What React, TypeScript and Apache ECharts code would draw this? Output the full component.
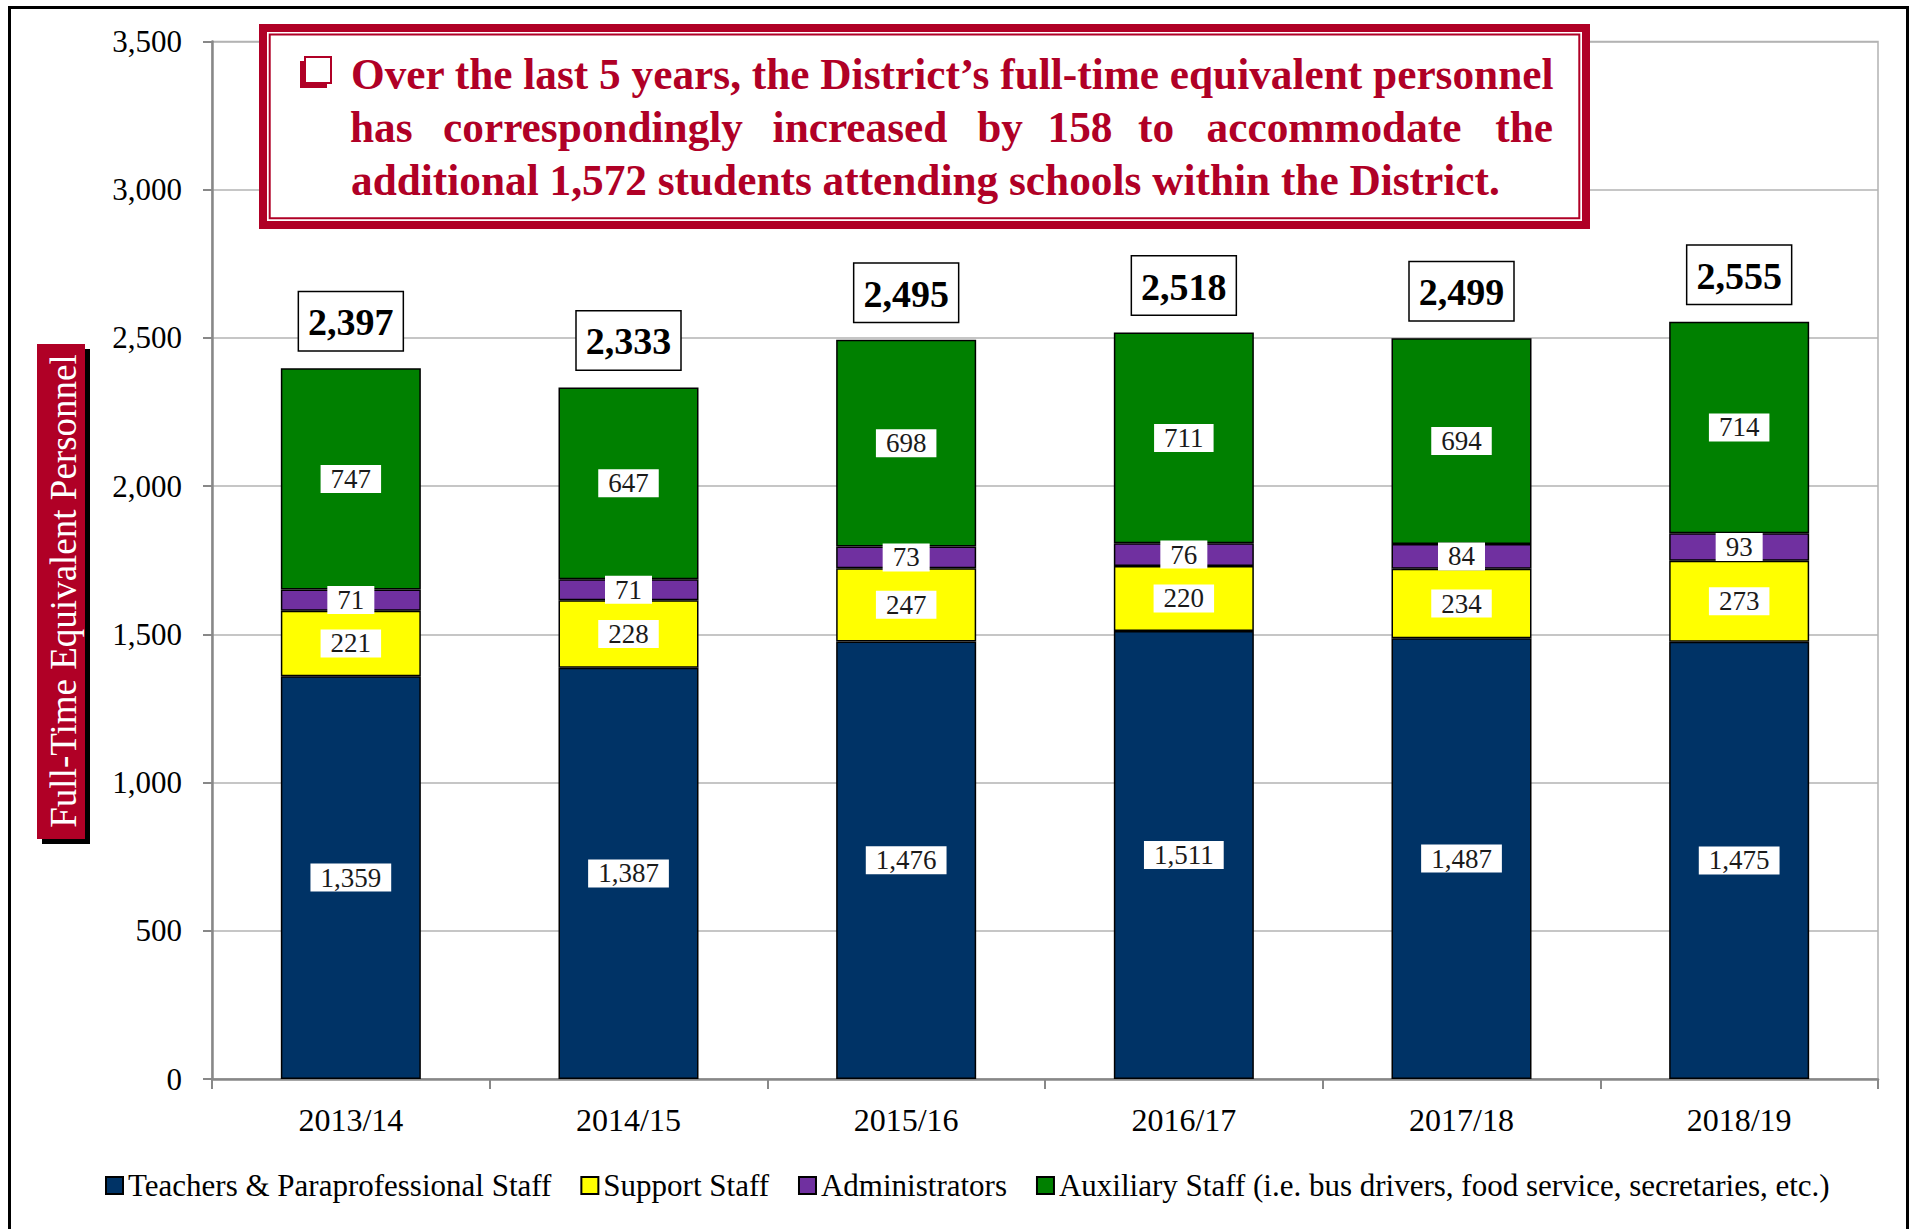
import React, { useEffect, useRef } from "react";
import * as echarts from "echarts";

const categories = ["2013/14", "2014/15", "2015/16", "2016/17", "2017/18", "2018/19"];
const teachers = [1359, 1387, 1476, 1511, 1487, 1475];
const support = [221, 228, 247, 220, 234, 273];
const admins = [71, 71, 73, 76, 84, 93];
const auxiliary = [747, 647, 698, 711, 694, 714];
const totals = [2397, 2333, 2495, 2518, 2499, 2555];
const seriesNames = [
  "Teachers & Paraprofessional Staff",
  "Support Staff",
  "Administrators",
  "Auxiliary Staff (i.e. bus drivers, food service, secretaries, etc.)",
];
const seriesColors = ["#003366", "#FFFF00", "#7030A0", "#008000"];
const calloutLine1 = "Over the last 5 years, the District\u2019s full-time equivalent personnel";
const calloutLine2 = ["has", "correspondingly", "increased", "by", "158", "to", "accommodate", "the"];
const calloutLine3 = "additional 1,572 students attending schools within the District.";
const yAxisTitle = "Full-Time Equivalent Personnel";

const FONT = '"Liberation Serif", "Times New Roman", serif';
const RED = "#B00026";
const fmt = (v: number) => v.toLocaleString("en-US");

// word anchors for the justified second line
const line2X = [350, 593, 860, 1000, 1080, 1156, 1334, 1553];

export default function App() {
  const ref = useRef<HTMLDivElement>(null);
  useEffect(() => {
    if (!ref.current) return;
    const chart = echarts.init(ref.current, undefined, { renderer: "svg" });
    const dataSets = [teachers, support, admins, auxiliary];

    const segLabel = {
      show: true,
      position: "inside",
      backgroundColor: "#fff",
      padding: [1, 10, 0, 10],
      fontSize: 27,
      lineHeight: 27,
      fontFamily: FONT,
      color: "#1a1a1a",
      formatter: (p: any) => fmt(p.value),
    };

    const series: any[] = dataSets.map((d, i) => ({
      name: seriesNames[i],
      type: "bar",
      stack: "total",
      barWidth: 140,
      data: d,
      itemStyle: { color: seriesColors[i], borderColor: "#000", borderWidth: 1.5 },
      label: segLabel,
    }));

    series.push({
      name: "Total",
      type: "bar",
      stack: "total",
      barWidth: 140,
      data: totals.map(() => 0),
      itemStyle: { color: "transparent", borderWidth: 0 },
      label: {
        show: true,
        position: "top",
        distance: 18,
        formatter: (p: any) => fmt(totals[p.dataIndex]),
        fontSize: 38,
        lineHeight: 38,
        fontWeight: "bold",
        fontFamily: FONT,
        color: "#000",
        backgroundColor: "#fff",
        borderColor: "#000",
        borderWidth: 1.5,
        padding: [11, 9, 9, 9],
      },
    });

    const textStyleBase = {
      fill: RED,
      fontSize: 43.3,
      fontWeight: "bold",
      fontFamily: FONT,
      textVerticalAlign: "middle",
    };

    const graphic: any[] = [
      {
        type: "rect",
        shape: { x: 9.5, y: 7.5, width: 1898, height: 1260 },
        style: { fill: "none", stroke: "#000", lineWidth: 3 },
        z: 100,
      },
      // y-axis title box
      {
        type: "rect",
        shape: { x: 42, y: 349, width: 48, height: 495 },
        style: { fill: "#000" },
        z: 100,
      },
      {
        type: "rect",
        shape: { x: 37, y: 344, width: 48, height: 495 },
        style: { fill: RED },
        z: 101,
      },
      {
        type: "text",
        x: 63,
        y: 591,
        rotation: Math.PI / 2,
        z: 102,
        style: {
          text: yAxisTitle,
          fill: "#fff",
          fontSize: 37,
          fontFamily: FONT,
          textAlign: "center",
          textVerticalAlign: "middle",
        },
      },
      // callout
      {
        type: "rect",
        shape: { x: 263, y: 28, width: 1323, height: 197 },
        style: { fill: "#fff", stroke: RED, lineWidth: 8 },
        z: 100,
      },
      {
        type: "rect",
        shape: { x: 269.7, y: 34.5, width: 1309.6, height: 183.8 },
        style: { fill: "none", stroke: RED, lineWidth: 2 },
        z: 101,
      },
      {
        type: "rect",
        shape: { x: 300, y: 61, width: 27, height: 27 },
        style: { fill: RED },
        z: 101,
      },
      {
        type: "rect",
        shape: { x: 305, y: 57, width: 26, height: 26 },
        style: { fill: "#fff", stroke: RED, lineWidth: 2 },
        z: 102,
      },
      {
        type: "text",
        x: 351,
        y: 74,
        z: 102,
        style: { ...textStyleBase, text: calloutLine1, textAlign: "left" },
      },
      ...calloutLine2.map((w, i) => ({
        type: "text",
        x: line2X[i],
        y: 127,
        z: 102,
        style: {
          ...textStyleBase,
          text: w,
          textAlign: i === 0 ? "left" : i === calloutLine2.length - 1 ? "right" : "center",
        },
      })),
      {
        type: "text",
        x: 351,
        y: 180,
        z: 102,
        style: { ...textStyleBase, text: calloutLine3, textAlign: "left" },
      },
    ];

    chart.setOption({
      animation: false,
      backgroundColor: "#fff",
      grid: {
        left: 212,
        right: 37,
        top: 41.5,
        bottom: 150,
        show: true,
        borderColor: "#b3b3b3",
        borderWidth: 1.5,
        backgroundColor: "transparent",
      },
      legend: {
        data: seriesNames,
        left: 100,
        top: 1165,
        icon: "rect",
        itemWidth: 17,
        itemHeight: 17,
        itemGap: 29,
        textStyle: { fontSize: 31, fontFamily: FONT, color: "#000" },
      },
      xAxis: {
        type: "category",
        data: categories,
        axisLine: { show: true, lineStyle: { color: "#888", width: 2.5 } },
        axisTick: { show: true, length: 10, lineStyle: { color: "#888", width: 2 } },
        axisLabel: { margin: 25, fontSize: 32, fontFamily: FONT, color: "#000" },
      },
      yAxis: {
        type: "value",
        min: 0,
        max: 3500,
        interval: 500,
        axisLine: { show: true, lineStyle: { color: "#888", width: 2.5 } },
        axisTick: { show: true, length: 9, lineStyle: { color: "#888", width: 2 } },
        axisLabel: {
          margin: 30,
          fontSize: 31,
          fontFamily: FONT,
          color: "#000",
          formatter: (v: number) => fmt(v),
        },
        splitLine: { lineStyle: { color: "#b3b3b3", width: 1.5 } },
      },
      series,
      graphic,
    });
    return () => chart.dispose();
  }, []);
  return (
    <div
      ref={ref}
      style={{ position: "absolute", left: 0, top: 0, width: 1915, height: 1229 }}
    />
  );
}
